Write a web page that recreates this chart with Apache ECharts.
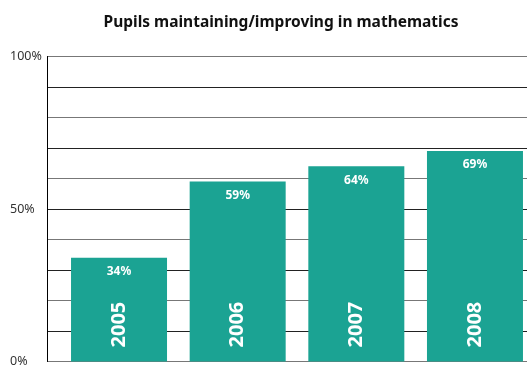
<!DOCTYPE html>
<html>
<head>
<meta charset="utf-8">
<script src="https://cdn.jsdelivr.net/npm/echarts@6/dist/echarts.min.js"></script>
<style>
  html, body { margin: 0; padding: 0; background: #fff; }
  #chart { width: 527px; height: 365px; }
</style>
</head>
<body>
<div id="chart"></div>
<script>
// Share of pupils maintaining or improving in mathematics, by year
const years = ['2005', '2006', '2007', '2008'];
const values = [34, 59, 64, 69];
const yTicks = [0, 50, 100];

const FONT = '"Noto Sans", sans-serif';
const TEAL = '#1ba393';

const chart = echarts.init(document.getElementById('chart'), null, { renderer: 'canvas' });

chart.setOption({
  animation: false,
  backgroundColor: '#ffffff',
  title: {
    text: 'Pupils maintaining/improving in mathematics',
    left: 276,
    textAlign: 'center',
    top: 10,
    textStyle: { fontFamily: FONT, fontSize: 15.5, fontWeight: 'bold', color: '#111' }
  },
  grid: [
    // axis + gridlines
    { left: 47, right: 0, top: 56.5, bottom: 3.5, outerBoundsMode: 'none' },
    // bars, the last band running past the right edge
    { left: 59.7, width: 474.6, top: 56.5, bottom: 3.5, outerBoundsMode: 'none' }
  ],
  xAxis: [
    { type: 'category', gridIndex: 0, data: years, show: false },
    { type: 'category', gridIndex: 1, data: years, show: false }
  ],
  yAxis: [
    {
      type: 'value', gridIndex: 0, min: 0, max: 100, interval: 10,
      axisLine: { show: true, lineStyle: { color: '#000', width: 1 } },
      axisTick: { show: false },
      axisLabel: {
        formatter: v => (yTicks.includes(v) ? v + '%' : ''),
        align: 'left', margin: 37, padding: [4, 0, 0, 0],
        fontFamily: FONT, fontSize: 12.5, color: '#333'
      },
      splitLine: { show: true, lineStyle: { color: ['#777', '#222'], width: 1 } }
    },
    { type: 'value', gridIndex: 1, min: 0, max: 100, show: false }
  ],
  series: [
    {
      type: 'bar', xAxisIndex: 1, yAxisIndex: 1,
      data: values, barWidth: 96,
      itemStyle: { color: TEAL },
      label: {
        show: true, position: 'insideTop', distance: 8,
        formatter: '{c}%',
        fontFamily: FONT, fontSize: 12, fontWeight: 'bold', color: '#fff'
      }
    },
    {
      // year captions written upward from the foot of each bar
      type: 'bar', xAxisIndex: 1, yAxisIndex: 1,
      data: values, barWidth: 96, barGap: '-100%',
      itemStyle: { color: 'rgba(0,0,0,0)' },
      label: {
        show: true, position: 'insideBottom', distance: 14,
        rotate: 90, align: 'left', verticalAlign: 'middle',
        formatter: '{b}',
        fontFamily: FONT, fontSize: 20, fontWeight: 'bold', color: '#fff'
      }
    }
  ]
});
</script>
</body>
</html>
